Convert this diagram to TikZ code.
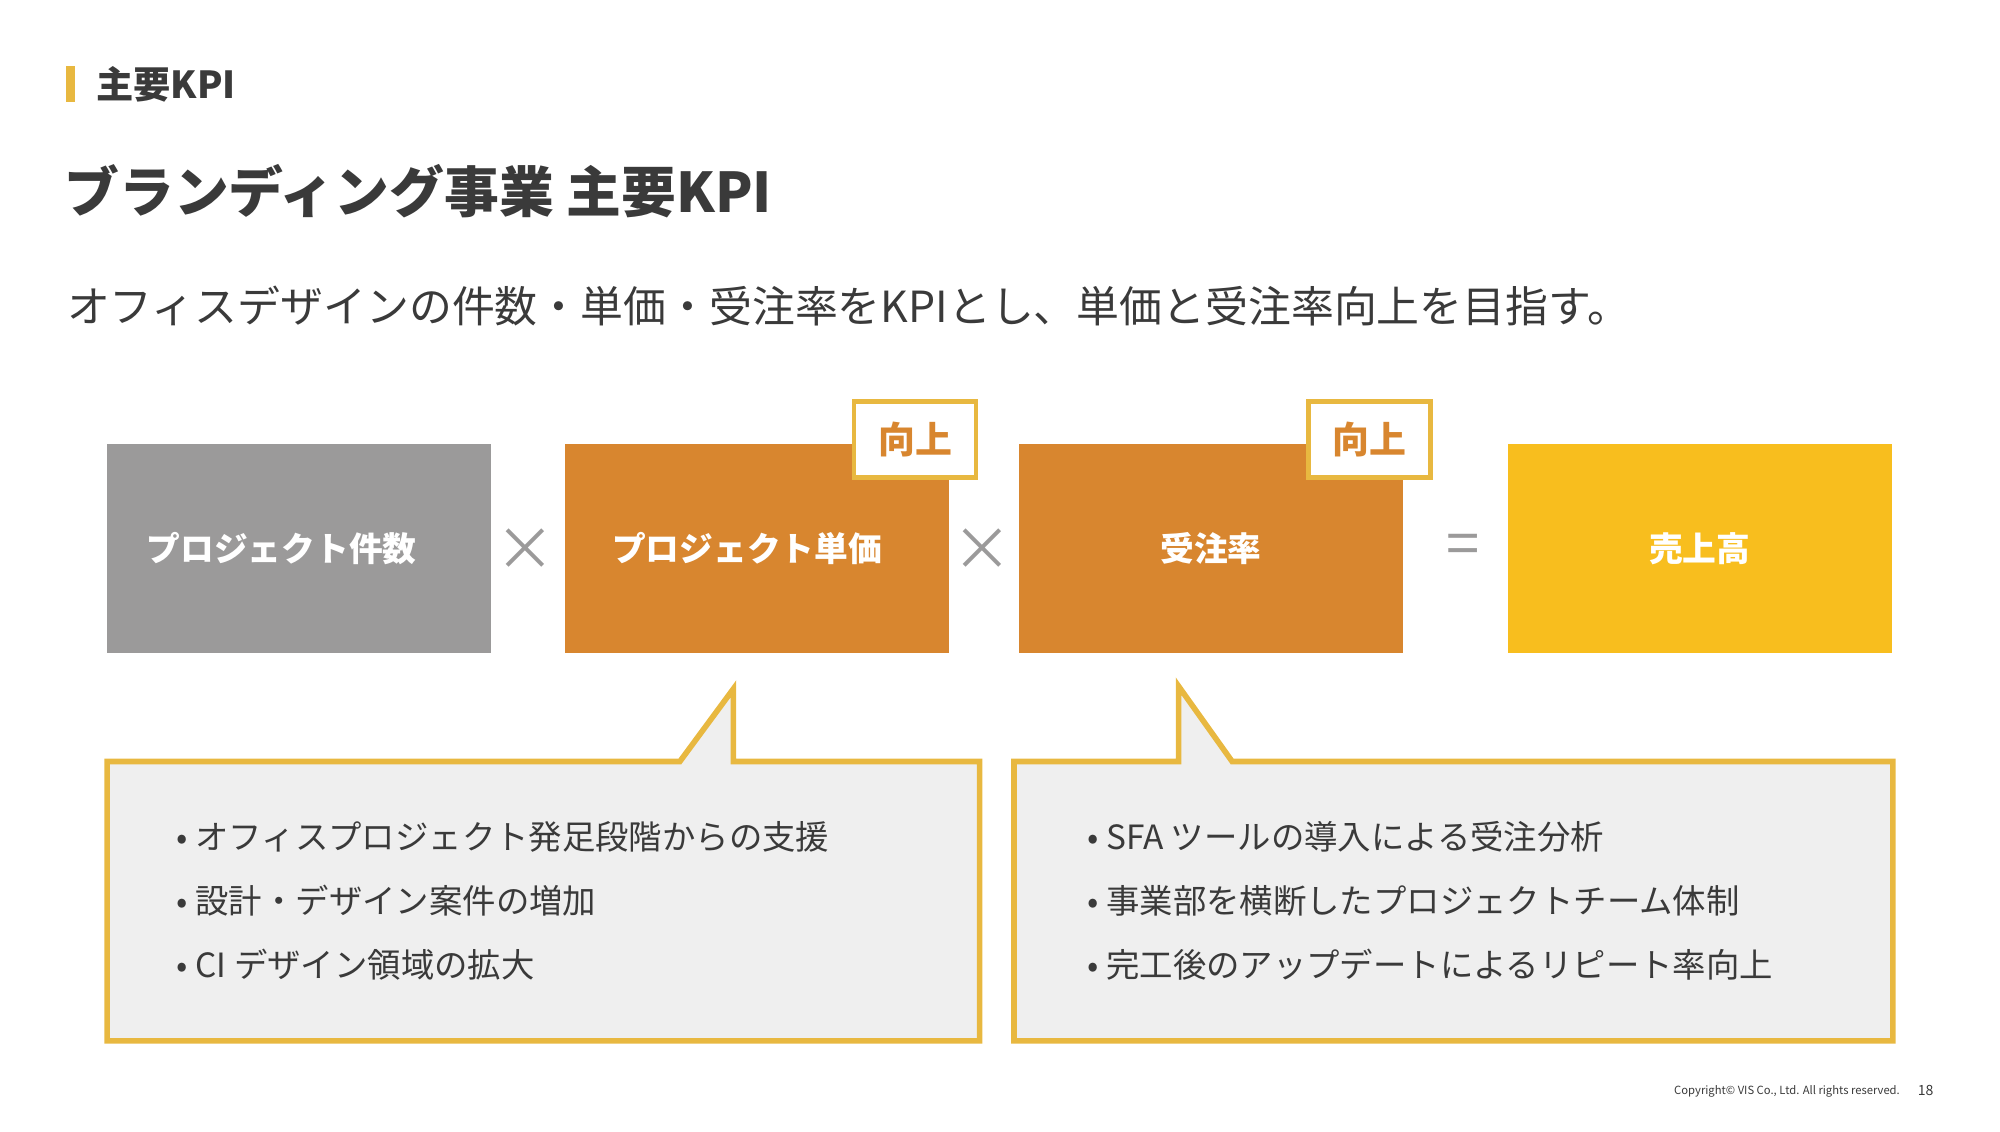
\documentclass[tikz,border=0pt]{standalone}
\usepackage{fontspec}
\setmainfont{Noto Sans CJK JP}
\usetikzlibrary{positioning}
\definecolor{kpigray}{HTML}{9B9A9A}
\definecolor{kpiorange}{HTML}{D8862F}
\definecolor{kpiyellow}{HTML}{F8BE1E}
\definecolor{kpiline}{HTML}{E8B840}
\definecolor{kpitext}{HTML}{3A3A3A}
\definecolor{kpifill}{HTML}{EFEFEF}
\begin{document}
\begin{tikzpicture}[x=0.012755cm,y=-0.012755cm,
    kpibox/.style={minimum width=3.84cm,minimum height=2.09cm,inner sep=0pt,text=white,font=\bfseries\fontsize{9.6}{12}\selectfont},
    upbadge/.style={draw=kpiline,line width=1.3pt,fill=white,minimum width=1.22cm,minimum height=0.76cm,inner sep=0pt,text=kpiorange,font=\bfseries\fontsize{10.5}{13}\selectfont},
    opsign/.style={text=kpigray,font=\fontsize{17}{20}\selectfont},
    bullet/.style={anchor=west,inner sep=0pt,text=kpitext,font=\fontsize{9.5}{12}\selectfont},
    callout/.style={draw=kpiline,line width=1.6pt,fill=kpifill}]
  \useasboundingbox (0,0) rectangle (1568,887);

  \fill[kpiline] (52,52) rectangle (59,80);
  \node[anchor=west,inner sep=0pt,text=kpitext,font=\bfseries\fontsize{10.6}{13}\selectfont] (sect) at (75,66) {主要KPI};
  \node[anchor=west,inner sep=0pt,text=kpitext,font=\bfseries\fontsize{15.6}{19}\selectfont] (title) at (50,150) {ブランディング事業 主要KPI};
  \node[anchor=west,inner sep=0pt,text=kpitext,font=\fontsize{12.2}{15}\selectfont] (lead) at (52,240) {オフィスデザインの件数・単価・受注率をKPIとし、単価と受注率向上を目指す。};

  % callouts
  \draw[callout] (84,597) -- (533,597) -- (575,540) -- (575,597) -- (768,597) -- (768,816) -- (84,816) -- cycle;
  \draw[callout] (795,597) -- (924,597) -- (924,538) -- (966,597) -- (1484,597) -- (1484,816) -- (795,816) -- cycle;

  % boxes
  \node[kpibox,fill=kpigray] (count) at (234.5,430) {\hspace*{-0.35cm}プロジェクト件数};
  \node[kpibox,fill=kpiorange] (price) at (593.5,430) {\hspace*{-0.2cm}プロジェクト単価};
  \node[kpibox,fill=kpiorange] (rate) at (949.5,430) {受注率};
  \node[kpibox,fill=kpiyellow] (sales) at (1332.5,430) {売上高};
  \node[upbadge] (upprice) at (717.5,344.5) {向上};
  \node[upbadge] (uprate) at (1073.5,344.5) {向上};
  \node[opsign] (times1) at (412,431) {×};
  \node[opsign] (times2) at (770,431) {×};
  \node[opsign] (equal) at (1147,431) {=};

  % bullets
  \node[bullet] (l1) at (138,656) {• オフィスプロジェクト発足段階からの支援};
  \node[bullet] (l2) at (138,706) {• 設計・デザイン案件の増加};
  \node[bullet] (l3) at (138,756) {• CI デザイン領域の拡大};
  \node[bullet] (r1) at (852,656) {• SFA ツールの導入による受注分析};
  \node[bullet] (r2) at (852,706) {• 事業部を横断したプロジェクトチーム体制};
  \node[bullet] (r3) at (852,756) {• 完工後のアップデートによるリピート率向上};

  \node[anchor=east,inner sep=0pt,text=kpitext,font=\fontsize{3.2}{4}\selectfont] (copy) at (1490,856) {Copyright© VIS Co., Ltd. All rights reserved.};
  \node[anchor=west,inner sep=0pt,text=kpitext,font=\fontsize{4}{5}\selectfont] (page) at (1503,855) {18};
\end{tikzpicture}
\end{document}
